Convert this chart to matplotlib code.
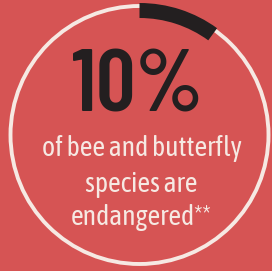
import matplotlib
matplotlib.use("Agg")
import matplotlib.pyplot as plt
from matplotlib.patches import Circle, Wedge

# data
percent = 10
headline = f"{percent}%"
caption_lines = ["of bee and butterfly", "species are", "endangered**"]
caption_baselines = [156, 192, 225]

bg_color = "#d65454"
dark = "#231f20"
light = "#f6e9e3"

fig = plt.figure(figsize=(2.72, 2.71), dpi=100)
fig.patch.set_facecolor(bg_color)
ax = fig.add_axes([0, 0, 1, 1])
ax.set_xlim(0, 272)
ax.set_ylim(271, 0)
ax.set_aspect("equal")
ax.axis("off")

cx, cy, r = 139.5, 135, 129

# white ring
ax.add_patch(Circle((cx, cy), r, fill=False, ec=light, lw=2.8))

# dark arc for the percentage, clockwise from 12 o'clock (y axis is flipped)
ax.add_patch(Wedge((cx, cy), r + 3, 270, 270 + 360 * percent / 100,
                   width=15, fc=dark, ec="none"))

ax.text(cx - 2, 112, headline, ha="center", va="baseline", fontsize=63,
        fontweight="semibold", fontstretch="condensed", color=dark,
        family=["Barlow Condensed", "DejaVu Sans"])

for line, y in zip(caption_lines, caption_baselines):
    ax.text(cx + 2, y, line, ha="center", va="baseline", fontsize=20,
            fontstretch="condensed", color=light,
            family=["Asap Condensed", "Fira Sans Extra Condensed", "DejaVu Sans"])

fig.savefig("out.png", dpi=100, facecolor=bg_color)
